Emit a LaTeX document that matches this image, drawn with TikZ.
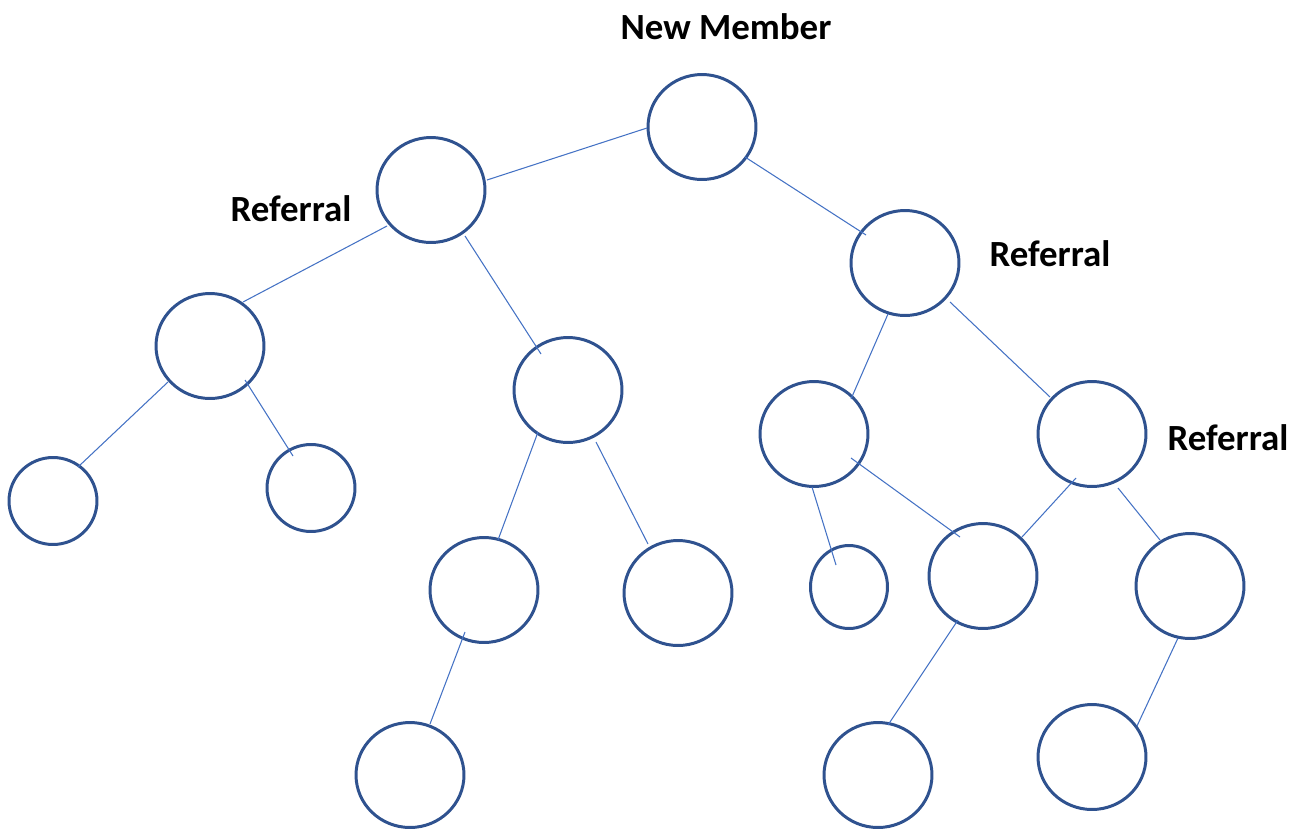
\documentclass[tikz,border=0pt]{standalone}
\usepackage{fontspec}
\setmainfont{Carlito}
\usetikzlibrary{shapes.geometric,calc}

\definecolor{ringblue}{HTML}{2F528F}
\definecolor{edgeblue}{HTML}{4472C4}

\begin{document}
\begin{tikzpicture}[
    x=0.02cm, y=-0.02cm,
    member/.style={ellipse, draw=ringblue, line width=1.7pt,
        minimum width=2.16cm, minimum height=2.1cm, inner sep=0pt},
    small/.style={member, minimum width=1.76cm, minimum height=1.74cm},
    edge/.style={draw=edgeblue, line width=0.6pt, -},
    tag/.style={font=\fontsize{21}{25}\selectfont\bfseries, inner sep=0pt}
]
    \useasboundingbox (0,0) rectangle (1295,829);
    \node[member] (root) at (702,127) {};
    \node[member] (l1) at (431,190) {};
    \node[member] (r1) at (905,263) {};
    \node[member] (l2a) at (210,346) {};
    \node[member] (l2b) at (568,390) {};
    \node[member] (r2a) at (814,434) {};
    \node[member] (r2b) at (1092,434) {};
    \node[small] (l3a) at (53,501) {};
    \node[small] (l3b) at (311,488) {};
    \node[member] (l3c) at (484,590) {};
    \node[member] (l3d) at (678,593) {};
    \node[member, minimum width=1.54cm, minimum height=1.66cm] (r3a) at (849,587) {};
    \node[member] (r3b) at (983,576) {};
    \node[member] (r3c) at (1190,586) {};
    \node[member] (l4) at (410,775) {};
    \node[member] (r4a) at (878,775) {};
    \node[member] (r4b) at (1092,757) {};
    \node[tag] (newtag) at (726,27) {New Member};
    \node[tag] (reftag1) at (291,209) {Referral};
    \node[tag] (reftag2) at (1050,254) {Referral};
    \node[tag] (reftag3) at (1228,438) {Referral};
    \draw[edge] ($(root)+(-55,1)$) -- ($(l1)+(56,-10)$);
    \draw[edge] ($(root)+(43,30)$) -- ($(r1)+(-39,-28)$);
    \draw[edge] ($(l1)+(-44,36)$) -- ($(l2a)+(33,-44)$);
    \draw[edge] ($(l1)+(34,46)$) -- ($(l2b)+(-27,-36)$);
    \draw[edge] ($(r1)+(-17,51)$) -- ($(r2a)+(37,-35)$);
    \draw[edge] ($(r1)+(45,39)$) -- ($(r2b)+(-42,-37)$);
    \draw[edge] ($(l2a)+(-42,36)$) -- ($(l3a)+(25,-34)$);
    \draw[edge] ($(l2a)+(35,34)$) -- ($(l3b)+(-18,-32)$);
    \draw[edge] ($(l2b)+(-30,42)$) -- ($(l3c)+(14,-50)$);
    \draw[edge] ($(l2b)+(28,52)$) -- ($(l3d)+(-30,-49)$);
    \draw[edge] ($(r2a)+(-2,53)$) -- ($(r3a)+(-13,-22)$);
    \draw[edge] ($(r2a)+(37,24)$) -- ($(r3b)+(-23,-39)$);
    \draw[edge] ($(r2b)+(-16,44)$) -- ($(r3b)+(39,-39)$);
    \draw[edge] ($(r2b)+(26,54)$) -- ($(r3c)+(-30,-46)$);
    \draw[edge] ($(l3c)+(-19,42)$) -- ($(l4)+(20,-51)$);
    \draw[edge] ($(r3b)+(-25,44)$) -- ($(r4a)+(10,-50)$);
    \draw[edge] ($(r3c)+(-12,52)$) -- ($(r4b)+(45,-31)$);
\end{tikzpicture}
\end{document}
